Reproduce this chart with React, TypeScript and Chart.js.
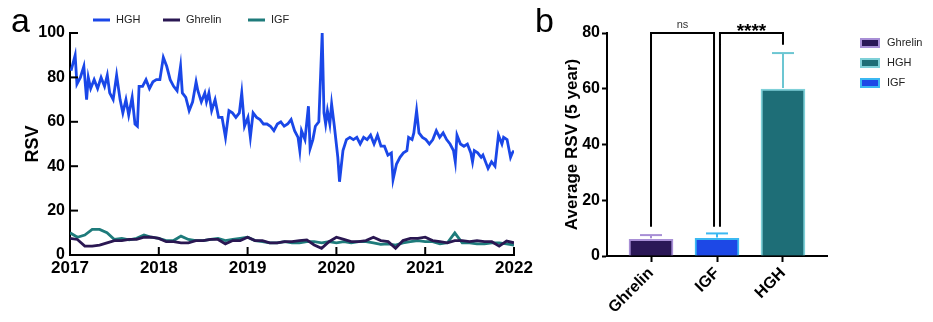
import React, { useEffect, useRef } from 'react';
import { Chart, registerables } from 'chart.js';

Chart.register(...registerables);

const FONT = "'Liberation Sans', Arial, Helvetica, sans-serif";

// ---------- Panel a data ----------
const seriesNames = ['HGH', 'Ghrelin', 'IGF'];
const seriesColors = ['#1a47e8', '#2a1752', '#1e7b7b'];
const yearTicks = [2017, 2018, 2019, 2020, 2021, 2022];

const hghDates = [
  2017.012, 2017.058, 2017.078, 2017.117, 2017.156, 2017.187, 2017.206, 2017.233, 2017.272, 2017.311,
  2017.350, 2017.389, 2017.420, 2017.447, 2017.486, 2017.525, 2017.564, 2017.595, 2017.630, 2017.661,
  2017.700, 2017.732, 2017.759, 2017.778, 2017.817, 2017.856, 2017.895, 2017.934, 2017.973, 2018.012,
  2018.051, 2018.089, 2018.128, 2018.167, 2018.206, 2018.245, 2018.265, 2018.304, 2018.342, 2018.381,
  2018.420, 2018.440, 2018.479, 2018.518, 2018.537, 2018.564, 2018.595, 2018.634, 2018.673, 2018.712,
  2018.751, 2018.790, 2018.829, 2018.868, 2018.907, 2018.934, 2018.965, 2019.004, 2019.031, 2019.062,
  2019.101, 2019.140, 2019.179, 2019.218, 2019.257, 2019.296, 2019.335, 2019.374, 2019.412, 2019.451,
  2019.490, 2019.529, 2019.568, 2019.588, 2019.607, 2019.646, 2019.685, 2019.704, 2019.735, 2019.763,
  2019.802, 2019.840, 2019.860, 2019.879, 2019.899, 2019.926, 2019.946, 2019.977, 2020.016, 2020.035,
  2020.074, 2020.113, 2020.152, 2020.191, 2020.230, 2020.268, 2020.307, 2020.346, 2020.385, 2020.424,
  2020.463, 2020.502, 2020.541, 2020.580, 2020.619, 2020.638, 2020.677, 2020.716, 2020.755, 2020.794,
  2020.813, 2020.852, 2020.872, 2020.903, 2020.930, 2020.969, 2021.008, 2021.047, 2021.086, 2021.125,
  2021.163, 2021.202, 2021.241, 2021.280, 2021.319, 2021.339, 2021.358, 2021.397, 2021.436, 2021.475,
  2021.514, 2021.533, 2021.553, 2021.591, 2021.630, 2021.650, 2021.708, 2021.747, 2021.786, 2021.825,
  2021.864, 2021.883, 2021.922, 2021.961, 2021.981, 2022.000,
];
const hghRsv = [
  83, 90, 77, 80, 85, 70, 80, 75, 79, 75,
  80, 76, 81, 73, 70, 81, 70, 64, 70, 63,
  71, 59, 58, 76, 76, 79, 75, 78, 79, 79,
  89, 85, 79, 76, 74, 85, 73, 71, 65, 69,
  78, 74, 69, 73, 69, 73, 65, 70, 62, 62,
  53, 65, 64, 62, 64, 73, 58, 62, 53, 64,
  62, 61, 59, 59, 58, 56, 59, 60, 58, 59,
  61, 56, 53, 47, 56, 52, 67, 48, 52, 58,
  60, 100, 64, 59, 65, 59, 68, 58, 44, 33,
  47, 52, 53, 52, 53, 50, 53, 52, 54, 50,
  54, 49, 49, 45, 46, 34, 41, 44, 46, 47,
  53, 52, 55, 65, 55, 53, 52, 50, 52, 56,
  53, 55, 52, 50, 47, 42, 54, 50, 49, 50,
  46, 42, 47, 46, 44, 45, 39, 42, 40, 54,
  50, 53, 52, 44, 46, 47,
];

// monthly readings, Jan 2017 .. Jan 2022
const ghrelinRsv = [
  7.5, 7, 4, 4, 4.5, 5.5, 6.5, 6.5, 7, 7, 8, 8,
  7.5, 6, 6, 5.5, 5.5, 6.5, 6.5, 7, 7, 5, 6.5, 6.5,
  8, 6.5, 6.5, 5.5, 5.5, 6, 6, 6.5, 6.8, 4.5, 3, 6,
  8, 7, 6, 6, 6.5, 8, 6.5, 6, 3, 6.5, 7.5, 7.5,
  8, 6.5, 6, 5.5, 6.5, 6.5, 6, 6.5, 6, 6, 4, 6.3,
  5.5,
];
const igfRsv = [
  10, 8, 9, 11.5, 11.5, 10, 7, 7.5, 6.8, 7.5, 9, 8,
  7.5, 6.5, 6.5, 8.5, 7, 6.5, 6.5, 7, 7.5, 6.5, 7, 7.5,
  8, 6.5, 6, 5.5, 5.5, 6, 5.5, 5.5, 6, 6, 5.5, 6,
  5.5, 6, 5.5, 6, 6, 5.5, 4.8, 5, 4.5, 5.5, 6, 6.5,
  6, 6, 5, 5.5, 10, 5.5, 5.5, 5, 5, 5.5, 5.5, 5,
  4.5,
];

// ---------- Panel b data ----------
const barCategories = ['Ghrelin', 'IGF', 'HGH'];
const barMeans = [6.0, 6.3, 59.9];
const barSD = [1.5, 1.8, 12.9];
const barFill = ['#2b1857', '#1d48e6', '#1e6e77'];
const barEdge = ['#a88fd6', '#3bb8f2', '#7fd0d8'];
const errColors = ['#a88fd6', '#3bb8f2', '#6cc6d2'];
const barLegendOrder = [0, 2, 1];
const bracketFrom = [0, 1.045];
const bracketTo = [0.955, 2];
const bracketTop = [80, 80];
const bracketLeftFoot = [10.5, 10.5];
const bracketRightFoot = [10.5, 75.8];
const bracketLabels = ['ns', '****'];

const monthX = (i: number) => 2017 + i / 12;

export default function App() {
  const refA = useRef<HTMLCanvasElement>(null);
  const refB = useRef<HTMLCanvasElement>(null);

  useEffect(() => {
    const line = (ctx: CanvasRenderingContext2D, x1: number, y1: number, x2: number, y2: number, color: string, w: number) => {
      ctx.save();
      ctx.strokeStyle = color;
      ctx.lineWidth = w;
      ctx.beginPath();
      ctx.moveTo(x1, y1);
      ctx.lineTo(x2, y2);
      ctx.stroke();
      ctx.restore();
    };

    const pluginA = {
      id: 'panelA',
      afterDraw(chart: any) {
        const ctx = chart.ctx as CanvasRenderingContext2D;
        const xs = chart.scales.x;
        const ys = chart.scales.y;
        // inward ticks
        xs.ticks.forEach((t: any) => {
          const px = xs.getPixelForValue(t.value);
          line(ctx, px, ys.bottom, px, ys.bottom - 8, '#000', 2);
        });
        ys.ticks.forEach((t: any) => {
          const py = ys.getPixelForValue(t.value);
          line(ctx, xs.left, py, xs.left + 8, py, '#000', 2);
        });
        // panel letter
        ctx.save();
        ctx.fillStyle = '#000';
        ctx.font = `34px ${FONT}`;
        ctx.textBaseline = 'alphabetic';
        ctx.fillText('a', 11, 32);
        // legend
        const legendX = [93, 163, 248];
        const legendY = 20;
        ctx.font = `11px ${FONT}`;
        ctx.textBaseline = 'middle';
        seriesNames.forEach((name, i) => {
          line(ctx, legendX[i], legendY, legendX[i] + 17, legendY, seriesColors[i], 3);
          ctx.fillStyle = '#222';
          ctx.fillText(name, legendX[i] + 23, legendY);
        });
        ctx.restore();
      },
    };

    const axisFont = (size: number) => ({ family: FONT, size, weight: 'bold' as const });

    const chartA = new Chart(refA.current!, {
      type: 'line',
      data: {
        datasets: [
          {
            label: 'Ghrelin',
            data: ghrelinRsv.map((v, i) => ({ x: monthX(i), y: v })),
            borderColor: seriesColors[1],
            backgroundColor: seriesColors[1],
            borderWidth: 2.8,
            pointRadius: 0,
            tension: 0,
          },
          {
            label: 'IGF',
            data: igfRsv.map((v, i) => ({ x: monthX(i), y: v })),
            borderColor: seriesColors[2],
            backgroundColor: seriesColors[2],
            borderWidth: 2.8,
            pointRadius: 0,
            tension: 0,
          },
          {
            label: 'HGH',
            data: hghRsv.map((v, i) => ({ x: hghDates[i], y: v })),
            borderColor: seriesColors[0],
            backgroundColor: seriesColors[0],
            borderWidth: 2.8,
            pointRadius: 0,
            tension: 0,
          },
        ],
      },
      options: {
        animation: false,
        responsive: false,
        devicePixelRatio: 1,
        layout: { padding: { top: 33, right: 26, left: 0, bottom: 0 } },
        plugins: { legend: { display: false }, tooltip: { enabled: false } },
        scales: {
          x: {
            type: 'linear',
            min: yearTicks[0],
            max: yearTicks[yearTicks.length - 1],
            afterBuildTicks: (s: any) => { s.ticks = yearTicks.map((v) => ({ value: v })); },
            ticks: {
              callback: (v: any) => String(v),
              font: axisFont(17),
              color: '#000',
              padding: 3,
              maxRotation: 0,
              autoSkip: false,
            },
            grid: { drawOnChartArea: false, drawTicks: false },
            border: { color: '#000', width: 2 },
            afterFit: (s: any) => { s.height = 67; },
          },
          y: {
            min: 0,
            max: 100,
            ticks: { stepSize: 20, font: axisFont(16), color: '#000', padding: 5 },
            grid: { drawOnChartArea: false, drawTicks: false },
            border: { color: '#000', width: 2 },
            title: { display: true, text: 'RSV', font: axisFont(18), color: '#000', padding: { top: 22, bottom: 0 } },
            afterFit: (s: any) => { s.width = 70; },
          },
        },
      },
      plugins: [pluginA],
    } as any);

    const pluginB = {
      id: 'panelB',
      afterDatasetsDraw(chart: any) {
        const ctx = chart.ctx as CanvasRenderingContext2D;
        const ys = chart.scales.y;
        const meta = chart.getDatasetMeta(0);
        meta.data.forEach((bar: any, i: number) => {
          const yTop = ys.getPixelForValue(barMeans[i]);
          const yErr = ys.getPixelForValue(barMeans[i] + barSD[i]);
          const half = bar.width * 0.25;
          line(ctx, bar.x, yTop - 1, bar.x, yErr, errColors[i], 2);
          line(ctx, bar.x - half, yErr, bar.x + half, yErr, errColors[i], 2);
        });
      },
      afterDraw(chart: any) {
        const ctx = chart.ctx as CanvasRenderingContext2D;
        const xs = chart.scales.x;
        const ys = chart.scales.y;
        // significance brackets
        bracketLabels.forEach((lab, k) => {
          const x1 = xs.getPixelForValue(bracketFrom[k]);
          const x2 = xs.getPixelForValue(bracketTo[k]);
          const yt = ys.getPixelForValue(bracketTop[k]);
          const yl = ys.getPixelForValue(bracketLeftFoot[k]);
          const yr = ys.getPixelForValue(bracketRightFoot[k]);
          ctx.save();
          ctx.strokeStyle = '#000';
          ctx.lineWidth = 2;
          ctx.lineJoin = 'miter';
          ctx.beginPath();
          ctx.moveTo(x1, yl);
          ctx.lineTo(x1, yt);
          ctx.lineTo(x2, yt);
          ctx.lineTo(x2, yr);
          ctx.stroke();
          ctx.fillStyle = '#000';
          ctx.textAlign = 'center';
          ctx.textBaseline = 'alphabetic';
          if (lab === 'ns') {
            ctx.font = `11px ${FONT}`;
            ctx.fillStyle = '#333';
            ctx.fillText(lab, (x1 + x2) / 2, yt - 5);
          } else {
            ctx.font = `bold 19px ${FONT}`;
            ctx.fillText(lab, (x1 + x2) / 2, yt + 4);
          }
          ctx.restore();
        });
        // panel letter
        ctx.save();
        ctx.fillStyle = '#000';
        ctx.font = `34px ${FONT}`;
        ctx.textBaseline = 'alphabetic';
        ctx.fillText('b', 5, 32);
        // legend
        const lx = xs.right + 34;
        ctx.font = `11px ${FONT}`;
        ctx.textBaseline = 'middle';
        barLegendOrder.forEach((ci, row) => {
          const cy = 43 + row * 20;
          ctx.fillStyle = barFill[ci];
          ctx.fillRect(lx, cy - 4, 18, 8);
          ctx.strokeStyle = barEdge[ci];
          ctx.lineWidth = 2;
          ctx.strokeRect(lx, cy - 4, 18, 8);
          ctx.fillStyle = '#222';
          ctx.fillText(barCategories[ci], lx + 26, cy);
        });
        ctx.restore();
      },
    };

    const chartB = new Chart(refB.current!, {
      type: 'bar',
      data: {
        datasets: [
          {
            label: 'Average RSV',
            data: barMeans.map((v, i) => ({ x: i, y: v })),
            backgroundColor: barFill,
            borderColor: barEdge,
            borderWidth: 2,
            barThickness: 44,
          },
        ],
      },
      options: {
        animation: false,
        responsive: false,
        devicePixelRatio: 1,
        layout: { padding: { top: 33, right: 106, left: 0, bottom: 0 } },
        plugins: { legend: { display: false }, tooltip: { enabled: false } },
        scales: {
          x: {
            type: 'linear',
            offset: false,
            min: -0.667,
            max: barCategories.length - 1 + 0.667,
            afterBuildTicks: (s: any) => { s.ticks = barCategories.map((_, i) => ({ value: i })); },
            ticks: {
              callback: (v: any) => barCategories[v] ?? '',
              font: axisFont(16),
              color: '#000',
              padding: 2,
              maxRotation: 45,
              minRotation: 45,
              autoSkip: false,
            },
            grid: { offset: false, drawOnChartArea: false, drawTicks: true, tickLength: 6, tickWidth: 2, tickColor: '#000' },
            border: { color: '#000', width: 2 },
            afterFit: (s: any) => { s.height = 66; },
          },
          y: {
            min: 0,
            max: 80,
            ticks: { stepSize: 20, font: axisFont(16), color: '#000', padding: 2 },
            grid: { drawOnChartArea: false, drawTicks: true, tickLength: 5, tickWidth: 2, tickColor: '#000' },
            border: { color: '#000', width: 2 },
            title: { display: true, text: 'Average RSV (5 year)', font: axisFont(17), color: '#000', padding: { top: 32, bottom: 0 } },
            afterFit: (s: any) => { s.width = 77; },
          },
        },
      },
      plugins: [pluginB],
    } as any);

    return () => {
      chartA.destroy();
      chartB.destroy();
    };
  }, []);

  return (
    <div style={{ position: 'fixed', left: 0, top: 0, width: 933, height: 322, background: '#fff', overflow: 'hidden' }}>
      <canvas ref={refA} width={540} height={322} style={{ position: 'absolute', left: 0, top: 0, width: 540, height: 322 }} />
      <canvas ref={refB} width={403} height={322} style={{ position: 'absolute', left: 530, top: 0, width: 403, height: 322 }} />
    </div>
  );
}
